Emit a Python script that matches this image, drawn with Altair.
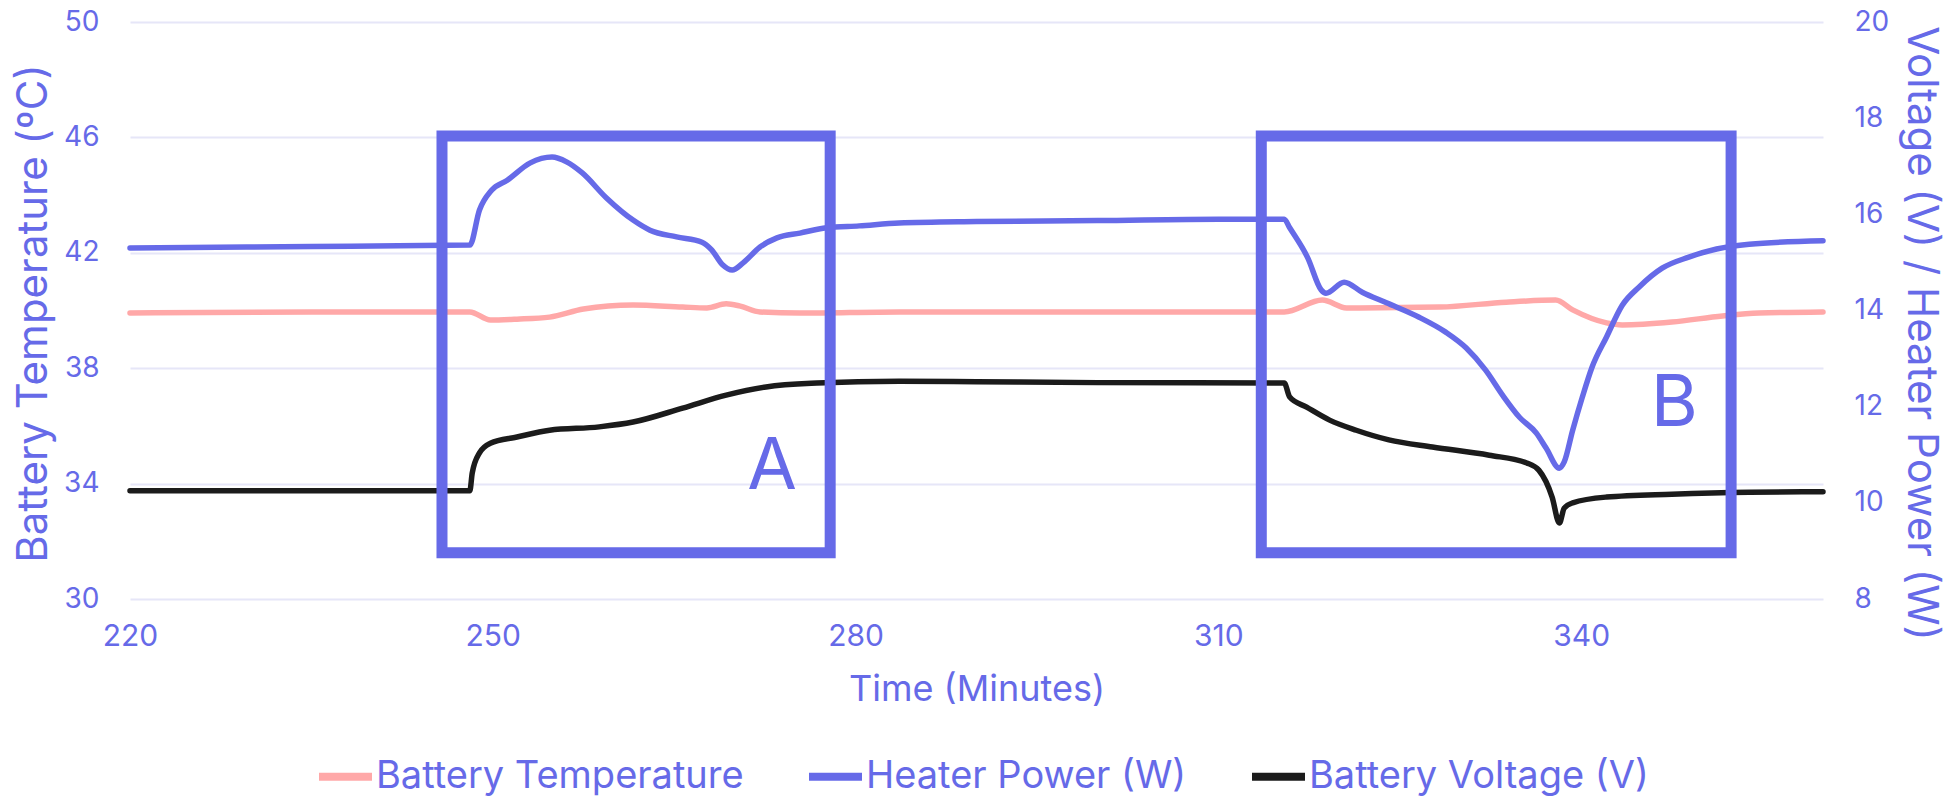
import altair as alt
import pandas as pd

BLUE = "#666AE8"
PINK = "#FFA8A8"
BLACK = "#1B1B1B"
GRID = "#E6E6F8"
FONT = "Inter"

# Series shown in the legend, in legend order, with their colours
series_names = ["Battery Temperature", "Heater Power (W)", "Battery Voltage (V)"]
series_colors = [PINK, BLUE, BLACK]

# Battery temperature (deg C, left axis)
temp_time = [220, 235, 248.1, 249.8, 252, 254.7, 257.5, 261.6, 265.7, 267.7, 269.3, 270.4,
             272.1, 275.4, 283.6, 300, 315.45, 318.6, 320.6, 328.3, 333.8, 337.9, 339.3,
             342.1, 343.4, 347.5, 351.7, 354.7, 360]
temp_vals = [39.91, 39.95, 39.95, 39.67, 39.70, 39.77, 40.05, 40.19, 40.12, 40.09, 40.23, 40.16,
             39.95, 39.91, 39.95, 39.95, 39.95, 40.36, 40.09, 40.12, 40.29, 40.36, 40.02,
             39.57, 39.50, 39.60, 39.81, 39.91, 39.95]

# Heater power (W, right axis)
power_time = [220, 235, 248.1, 248.9, 249.9, 251.2, 253.1, 254.9, 256.1, 257.4, 259.4, 261.6,
              263.0, 265.2, 267.3, 268.1, 269.0, 269.8, 270.7, 272.1, 273.5, 275.4, 277.6,
              280.3, 283.6, 290, 300, 310, 315.45, 315.9, 317.4, 318.5, 318.9, 320.4, 321.9,
              323.9, 326.6, 328.8, 330.5, 332.1, 333.5, 334.9, 336.3, 337.1, 338.2, 338.6,
              339.3, 340.1, 340.9, 342.1, 343.4, 344.8, 346.7, 348.9, 351.2, 353.9, 360]
power_vals = [15.30, 15.33, 15.36, 16.09, 16.50, 16.71, 17.07, 17.19, 17.09, 16.86, 16.34, 15.88,
              15.67, 15.53, 15.42, 15.26, 14.95, 14.84, 14.99, 15.32, 15.51, 15.61, 15.72,
              15.76, 15.82, 15.85, 15.87, 15.90, 15.90, 15.72, 15.09, 14.43, 14.36, 14.59, 14.38,
              14.16, 13.86, 13.55, 13.22, 12.76, 12.24, 11.78, 11.45, 11.14, 10.72, 10.85,
              11.51, 12.20, 12.82, 13.45, 14.11, 14.49, 14.88, 15.11, 15.28, 15.38, 15.45]

# Battery voltage (V, right axis)
volt_time = [220, 235, 248.1, 248.3, 248.9, 249.8, 252.0, 254.7, 258.8, 261.6, 265.7, 269.3,
             272.6, 276.8, 283.6, 290, 300, 315.45, 315.9, 317.3, 319.2, 321.4, 324.1, 327.7,
             332.4, 335.5, 336.5, 337.6, 338.2, 338.6, 339.3, 342.1, 347.5, 353.9, 360]
volt_vals = [10.25, 10.25, 10.25, 10.62, 11.04, 11.24, 11.37, 11.51, 11.58, 11.68, 11.97, 12.24,
             12.41, 12.49, 12.53, 12.52, 12.50, 12.49, 12.20, 11.99, 11.72, 11.51, 11.31, 11.16,
             10.99, 10.83, 10.68, 10.12, 9.58, 9.89, 10.00, 10.12, 10.18, 10.22, 10.23]

# Highlighted windows (time in minutes, extent in deg C on the left axis)
box_labels = ["A", "B"]
box_start = [245.8, 313.55]
box_end = [277.9, 352.4]
box_top = [46.05, 46.05]
box_bottom = [31.6, 31.6]
label_time = [273.1, 347.7]
label_temp = [33.8, 36.0]

temp_df = pd.DataFrame({"time": temp_time, "value": temp_vals, "series": series_names[0]})
right_df = pd.concat([
    pd.DataFrame({"time": power_time, "value": power_vals, "series": series_names[1]}),
    pd.DataFrame({"time": volt_time, "value": volt_vals, "series": series_names[2]}),
], ignore_index=True)
box_df = pd.DataFrame({"label": box_labels, "t0": box_start, "t1": box_end,
                       "top": box_top, "bottom": box_bottom,
                       "lt": label_time, "ly": label_temp})

x_enc = alt.X(
    "time:Q",
    scale=alt.Scale(domain=[220, 360], nice=False, zero=False),
    axis=alt.Axis(values=[220, 250, 280, 310, 340], title="Time (Minutes)", grid=False,
                  domain=False, ticks=False, labelFontSize=30, labelPadding=22,
                  labelFlush=False, titleFontSize=36, titleY=90, titleBaseline="middle"),
)

color_enc = alt.Color(
    "series:N",
    scale=alt.Scale(domain=series_names, range=series_colors),
    legend=alt.Legend(orient="none", legendX=185, legendY=724, direction="horizontal",
                      title=None, symbolType="stroke", symbolStrokeWidth=8, symbolSize=2809,
                      labelFontSize=38, labelOffset=0, columnPadding=49, labelLimit=0,
                      padding=0),
)

temp_scale = alt.Scale(domain=[30, 50], nice=False, zero=False)

temp_line = alt.Chart(temp_df).mark_line(
    strokeWidth=5.5, strokeCap="round", interpolate="monotone"
).encode(
    x=x_enc,
    y=alt.Y("value:Q", scale=temp_scale,
            axis=alt.Axis(orient="left", values=[30, 34, 38, 42, 46, 50], grid=True,
                          gridColor=GRID, gridWidth=2, domain=False, ticks=False,
                          labelPadding=31, labelFontSize=28,
                          title="Battery Temperature (ºC)", titleFontSize=42,
                          titleAngle=270, titleX=-97, titleY=291, titleBaseline="middle")),
    color=color_enc,
)

right_lines = alt.Chart(right_df).mark_line(
    strokeWidth=5.5, strokeCap="round", interpolate="monotone"
).encode(
    x=x_enc,
    y=alt.Y("value:Q", scale=alt.Scale(domain=[8, 20], nice=False, zero=False),
            axis=alt.Axis(orient="right", values=[8, 10, 12, 14, 16, 18, 20], grid=False,
                          domain=False, ticks=False, labelPadding=31, labelFontSize=28,
                          title="Voltage (V) / Heater Power (W)", titleFontSize=42,
                          titleAngle=90, titleX=97, titleY=311, titleBaseline="middle")),
    color=color_enc,
)

boxes = alt.Chart(box_df).mark_rect(fillOpacity=0, stroke=BLUE, strokeWidth=11).encode(
    x="t0:Q",
    x2="t1:Q",
    y=alt.Y("top:Q", scale=temp_scale, axis=None),
    y2="bottom:Q",
)

letters = alt.Chart(box_df).mark_text(fontSize=72, color=BLUE, font=FONT, align="center",
                                      baseline="alphabetic").encode(
    x="lt:Q",
    y=alt.Y("ly:Q", scale=temp_scale, axis=None),
    text="label:N",
)

chart = alt.layer(temp_line, right_lines, boxes, letters).resolve_scale(
    y="independent"
).properties(
    width=1693,
    height=577,
    autosize=alt.AutoSizeParams(type="none"),
    padding={"left": 130, "top": 22, "right": 134, "bottom": 199},
).configure(
    font=FONT,
).configure_view(
    stroke=None,
).configure_axis(
    labelFont=FONT, titleFont=FONT, labelColor=BLUE, titleColor=BLUE,
    titleFontWeight="normal",
).configure_legend(
    labelFont=FONT, labelColor=BLUE,
)

chart.save("out.html", embed_options={"renderer": "svg", "actions": False})
